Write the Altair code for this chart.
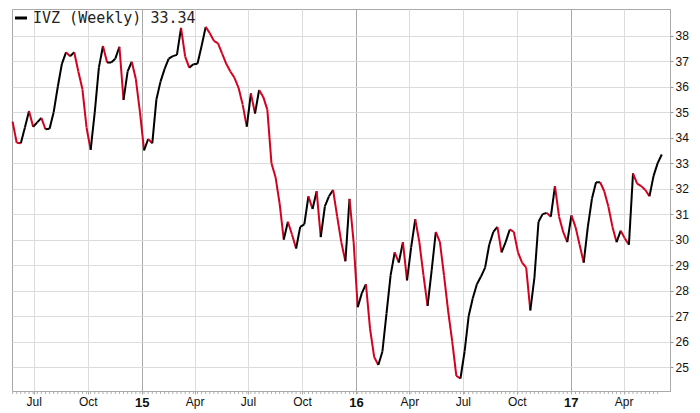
import altair as alt
import pandas as pd

# Weekly closing prices of IVZ
prices = [
    34.63, 33.80, 33.78, 34.40, 35.05, 34.43, 34.60, 34.78, 34.33, 34.35,
    35.00, 36.00, 36.90, 37.35, 37.20, 37.35, 36.60, 35.90, 34.40, 33.52,
    35.00, 36.75, 37.60, 36.95, 36.95, 37.10, 37.57, 35.48, 36.60, 36.98,
    36.30, 35.00, 33.50, 33.95, 33.78, 35.50, 36.20, 36.70, 37.10, 37.20,
    37.25, 38.31, 37.18, 36.75, 36.88, 36.90, 37.60, 38.35, 38.10, 37.80,
    37.70, 37.30, 36.90, 36.60, 36.35, 35.95, 35.30, 34.43, 35.74, 34.95,
    35.87, 35.60, 35.10, 33.00, 32.45, 31.40, 30.00, 30.70, 30.20, 29.65,
    30.50, 30.60, 31.70, 31.20, 31.90, 30.10, 31.30, 31.70, 31.95, 30.90,
    29.90, 29.15, 31.60, 29.90, 27.35, 27.90, 28.25, 26.50, 25.40, 25.08,
    25.60, 27.10, 28.60, 29.50, 29.10, 29.90, 28.40, 29.70, 30.80, 29.90,
    28.60, 27.40, 28.80, 30.30, 29.90, 28.60, 27.20, 26.00, 24.65, 24.55,
    25.60, 27.00, 27.70, 28.25, 28.55, 28.90, 29.80, 30.30, 30.50, 29.50,
    29.90, 30.40, 30.30, 29.50, 29.10, 28.90, 27.22, 28.50, 30.70, 31.00,
    31.05, 30.90, 32.10, 30.90, 30.30, 29.90, 30.95, 30.50, 29.80, 29.10,
    30.50, 31.60, 32.25, 32.25, 31.90, 31.30, 30.50, 29.90, 30.35, 30.05,
    29.80, 32.60, 32.20, 32.10, 31.95, 31.70, 32.50, 33.00, 33.34,
]
first_week = "2014-05-26"
ticker_label = "IVZ (Weekly)"

x_tick_months = [(2014, 7), (2014, 10), (2015, 1), (2015, 4), (2015, 7), (2015, 10),
                 (2016, 1), (2016, 4), (2016, 7), (2016, 10), (2017, 1), (2017, 4)]
y_ticks = list(range(25, 39))

up_color = "#000000"
down_color = "#d4001f"

weeks = pd.date_range(first_week, periods=len(prices), freq="7D")
seg = pd.DataFrame({
    "date": weeks[:-1],
    "date2": weeks[1:],
    "price": prices[:-1],
    "price2": prices[1:],
})
seg["dir"] = ["up" if b >= a else "down" for a, b in zip(prices[:-1], prices[1:])]
legend_df = pd.DataFrame({"t": [f"{ticker_label} {prices[-1]:.2f}"]})

W, H = 658, 382
is_year = "month(datum.value) == 0"

xscale = alt.Scale(domain=[alt.DateTime(year=2014, month=5, date=25),
                           alt.DateTime(year=2017, month=6, date=19)])
yscale = alt.Scale(domain=[24.06, 39.05], nice=False, zero=False)

xaxis = alt.Axis(
    values=[alt.DateTime(year=y, month=m, date=1) for y, m in x_tick_months],
    labelExpr="month(datum.value) == 0 ? timeFormat(datum.value, '%y') : timeFormat(datum.value, '%b')",
    labelFontWeight={"condition": {"test": is_year, "value": "bold"}, "value": "normal"},
    labelFontSize={"condition": {"test": is_year, "value": 13}, "value": 12},
    gridColor={"condition": {"test": is_year, "value": "#a8a8a8"}, "value": "#dcdcdc"},
    labelFont="Liberation Sans", labelColor="#111", labelPadding=2,
    tickSize=3, tickColor="#aaaaaa", domainColor="#aaaaaa", title=None,
)
yaxis = alt.Axis(
    orient="right", values=y_ticks, labelFont="Liberation Sans", labelFontSize=12,
    labelColor="#111", labelPadding=2, tickSize=3, tickColor="#999999",
    domainColor="#aaaaaa", gridColor="#dcdcdc", title=None,
)

line = alt.Chart(seg).mark_rule(strokeWidth=2).encode(
    x=alt.X("date:T", scale=xscale, axis=xaxis),
    x2="date2:T",
    y=alt.Y("price:Q", scale=yscale, axis=yaxis),
    y2="price2:Q",
    color=alt.Color("dir:N", scale=alt.Scale(domain=["up", "down"], range=[up_color, down_color]), legend=None),
)

# weekly minor tick marks under the x axis (same data, same scale)
minor = alt.Chart(seg).mark_rule(color="#b0b0b0", strokeWidth=1).encode(
    x=alt.X("date:T"),
    y=alt.value(H + 1),
    y2=alt.value(H + 3),
)

legend_dash = alt.Chart(legend_df).mark_rule(color="#000", strokeWidth=3).encode(
    x=alt.value(3), x2=alt.value(15), y=alt.value(9)
)
legend_text = alt.Chart(legend_df).mark_text(
    align="left", baseline="middle", font="DejaVu Sans Mono", fontSize=15, color="#222"
).encode(x=alt.value(21), y=alt.value(9), text="t:N")

chart = alt.layer(line, minor, legend_dash, legend_text).properties(
    width=W, height=H,
    autosize=alt.AutoSizeParams(type="none"),
    padding={"left": 4, "top": 1, "right": 22, "bottom": 22},
).configure_view(stroke="#a8a8a8", strokeWidth=1)

chart.save("out.html", embed_options={"renderer": "svg", "actions": False})
